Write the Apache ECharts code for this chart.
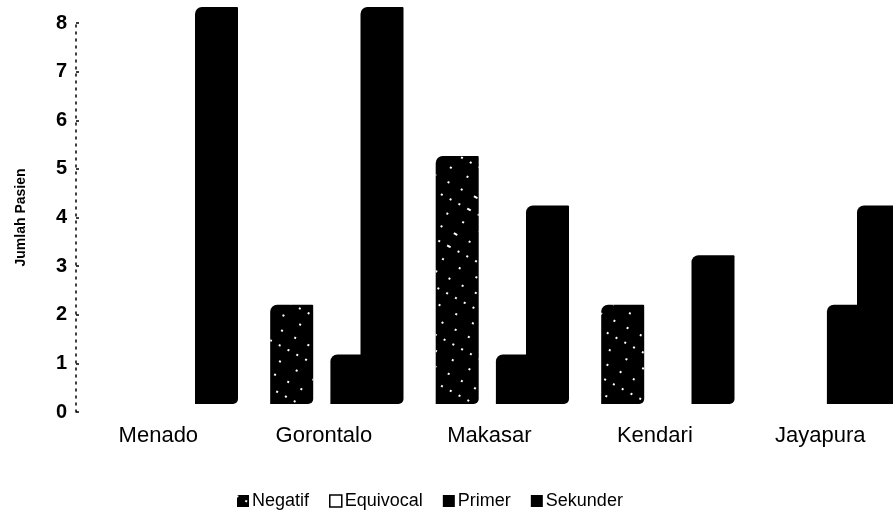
<!DOCTYPE html>
<html>
<head>
<meta charset="utf-8">
<script src="https://cdn.jsdelivr.net/npm/echarts@6/dist/echarts.min.js"></script>
<style>
  html, body { margin: 0; padding: 0; background: #fff; }
  #chart { width: 893px; height: 513px; }
</style>
</head>
<body>
<div id="chart"></div>
<script>
// Patients per city, by result type
const cities = ['Menado', 'Gorontalo', 'Makasar', 'Kendari', 'Jayapura'];
const seriesNames = ['Negatif', 'Equivocal', 'Primer', 'Sekunder'];
const negatif = [0, 2, 5, 2, 0];
const equivocal = [0, 0, 0, 0, 0];
const primer = [0, 1, 1, 0, 2];
const sekunder = [8, 8, 4, 3, 4];

const FONT = '"Liberation Sans", Arial, sans-serif';

// bevelled corners give the columns a faux-3D look
const barShape = { borderRadius: [7, 1, 5, 0] };

// sparse white speckles for the "Negatif" fill
const dotDecal = {
  symbol: 'rect',
  symbolSize: 1,
  color: '#fff',
  dashArrayX: [[1.5, 13], [1.5, 8], [1.5, 17]],
  dashArrayY: [1.5, 12],
  rotation: 0.5
};

const chart = echarts.init(document.getElementById('chart'), null, { renderer: 'canvas' });

function barSeries(name, values, itemStyle) {
  return {
    name: name,
    type: 'bar',
    xAxisIndex: 1,
    yAxisIndex: 1,
    data: values,
    barWidth: 43,
    barGap: '-30%',
    clip: false,
    itemStyle: Object.assign({}, barShape, itemStyle),
    emphasis: { disabled: true },
    animation: false
  };
}

chart.setOption({
  backgroundColor: '#fff',
  animation: false,
  grid: [
    // value-axis frame (tick labels)
    { left: 76, top: 23, width: 10, height: 389 },
    // column frame: ticks sit on the category centres
    { left: 171.35, top: 7, width: 662, height: 397 }
  ],
  xAxis: [
    { gridIndex: 0, type: 'value', show: false },
    {
      gridIndex: 1,
      type: 'category',
      data: cities,
      boundaryGap: false,
      axisLine: { show: false },
      axisTick: { show: false },
      splitLine: { show: false },
      axisLabel: {
        margin: 21,
        fontFamily: FONT,
        fontSize: 22,
        color: '#000',
        padding: [0, 26, 0, 0]
      }
    }
  ],
  yAxis: [
    {
      gridIndex: 0,
      type: 'value',
      min: 0,
      max: 8,
      interval: 1,
      name: 'Jumlah Pasien',
      nameLocation: 'middle',
      nameGap: 48,
      nameRotate: 90,
      nameTextStyle: { fontFamily: FONT, fontSize: 14, fontWeight: 'bold', color: '#000' },
      axisLine: { show: true, lineStyle: { color: '#000', width: 1.5, type: [2, 5] } },
      axisTick: { show: true, inside: true, length: 3, lineStyle: { color: '#000', width: 1.5 } },
      splitLine: { show: false },
      axisLabel: {
        margin: 9,
        fontFamily: FONT,
        fontSize: 20,
        fontWeight: 'bold',
        color: '#000'
      }
    },
    { gridIndex: 1, type: 'value', min: 0, max: 8, show: false, splitLine: { show: false } }
  ],
  legend: {
    left: 232,
    top: 487,
    itemWidth: 12,
    itemHeight: 12,
    itemGap: 20,
    icon: 'rect',
    textStyle: { fontFamily: FONT, fontSize: 18, color: '#000', padding: [0, 0, 0, -2] },
    data: [
      { name: 'Negatif' },
      { name: 'Equivocal', itemStyle: { color: '#fff', borderColor: '#000', borderWidth: 1.5 } },
      { name: 'Primer' },
      { name: 'Sekunder' }
    ]
  },
  series: [
    barSeries(seriesNames[0], negatif, { color: '#000', decal: dotDecal }),
    barSeries(seriesNames[1], equivocal, { color: '#fff' }),
    barSeries(seriesNames[2], primer, { color: '#000' }),
    barSeries(seriesNames[3], sekunder, { color: '#000' })
  ]
});
</script>
</body>
</html>
